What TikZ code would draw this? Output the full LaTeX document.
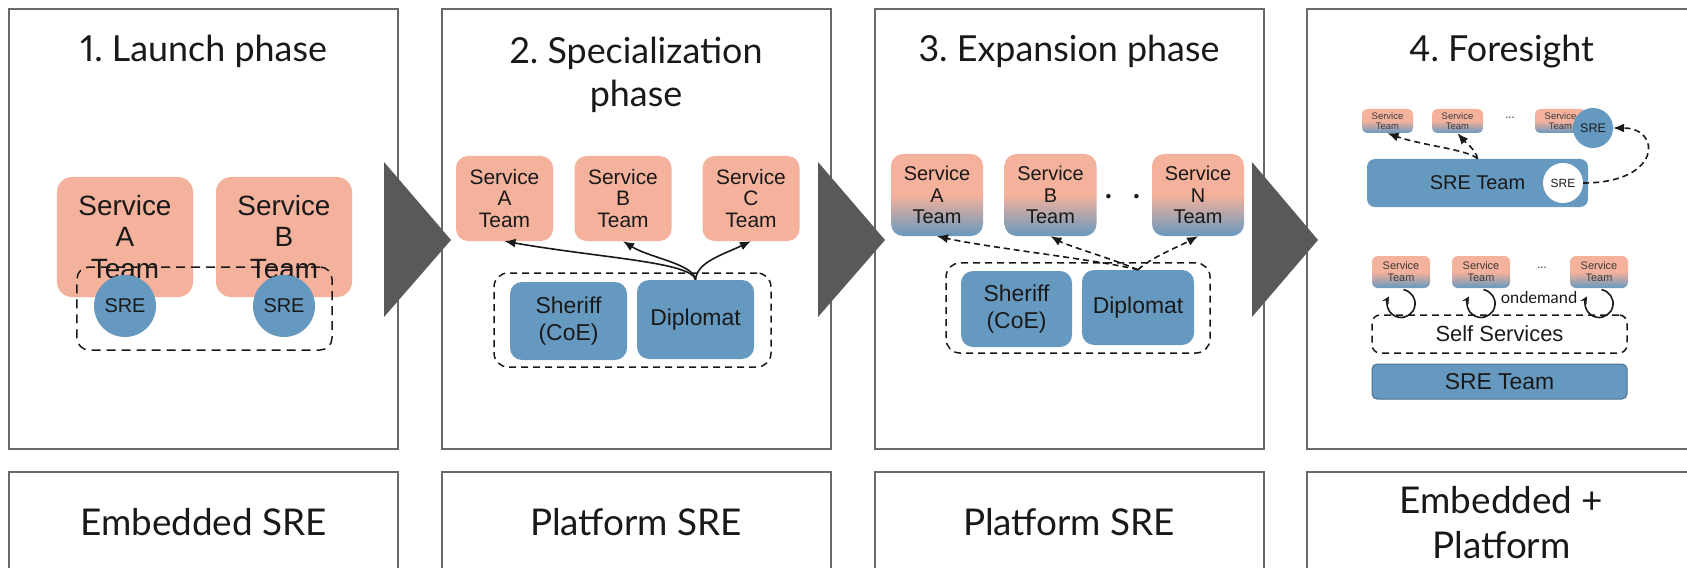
\documentclass[tikz,border=0pt]{standalone}
\usepackage{fontspec}
\setmainfont{Lato}[Numbers=Proportional]
\newfontfamily\boxfont{Liberation Sans}
\usetikzlibrary{arrows.meta,calc}
\definecolor{salmon}{RGB}{244,177,155}
\definecolor{steel}{RGB}{102,153,192}
\definecolor{framegray}{RGB}{105,105,105}
\definecolor{chevron}{RGB}{89,89,89}
\definecolor{ink}{RGB}{25,25,25}
\frenchspacing
\begin{document}
\begin{tikzpicture}[x=1bp, y=-1bp,
  panel/.style={draw=framegray, line width=2bp, minimum width=389bp, minimum height=440bp, inner sep=0pt},
  capbox/.style={draw=framegray, line width=2bp, minimum width=389bp, minimum height=200bp, inner sep=0pt},
  title/.style={font=\fontsize{36}{43}\selectfont, text=ink, inner sep=0pt, align=center},
  caption/.style={font=\fontsize{37}{45}\selectfont, text=ink, inner sep=0pt, align=center},
  svcA/.style={fill=salmon, rounded corners=15bp, minimum width=136bp, minimum height=120bp, inner sep=0pt, align=center, text=ink, font=\boxfont\fontsize{28}{32}\selectfont},
  svcB/.style={fill=salmon, rounded corners=12bp, minimum width=97bp, minimum height=85bp, inner sep=0pt, align=center, text=ink, font=\boxfont\fontsize{21}{22}\selectfont},
  svcC/.style={top color=salmon, bottom color=steel, middle color=salmon, rounded corners=12bp, minimum width=92bp, minimum height=82bp, inner sep=0pt, align=center, text=ink, font=\boxfont\fontsize{20}{21.5}\selectfont},
  minisvc/.style={top color=salmon, bottom color=steel, middle color=salmon, rounded corners=5bp, minimum width=51bp, minimum height=24bp, inner sep=0pt, align=center, text=ink!85, font=\boxfont\fontsize{9.5}{10}\selectfont},
  minisvcB/.style={top color=salmon, bottom color=steel, middle color=salmon, rounded corners=6bp, minimum width=58bp, minimum height=32bp, inner sep=0pt, align=center, text=ink!85, font=\boxfont\fontsize{11}{12}\selectfont},
  role/.style={fill=steel, rounded corners=12bp, inner sep=0pt, align=center, text=ink, font=\boxfont\fontsize{23}{27}\selectfont},
  srecirc/.style={circle, fill=steel, minimum size=62bp, inner sep=0pt, text=ink, font=\boxfont\fontsize{20}{22}\selectfont},
  grouping/.style={draw=ink, line width=1.5bp, dash pattern=on 7bp off 5bp, rounded corners=14bp, inner sep=0pt},
  solidarrow/.style={draw=ink, line width=1.6bp, -{Latex[length=11bp,width=9bp]}},
  dasharrow/.style={draw=ink, line width=1.6bp, dash pattern=on 6bp off 4bp, -{Latex[length=11bp,width=9bp]}},
  looparrow/.style={draw=ink, line width=1.6bp, -{Stealth[length=7bp,width=7bp]}},
  ellip/.style={inner sep=0pt, text=ink!70, font=\fontsize{13}{14}\selectfont}
]
\clip (0,0) rectangle (1687,568);

% ---- phase frames and captions ----
\node[panel] (p1) at (203.5,229) {};
\node[panel] (p2) at (636,229) {};
\node[panel] (p3) at (1069,229) {};
\node[panel] (p4) at (1501.5,229) {};
\node[capbox] (c1) at (203.5,572) {};
\node[capbox] (c2) at (636,572) {};
\node[capbox] (c3) at (1069,572) {};
\node[capbox] (c4) at (1501.5,572) {};

\node[caption, anchor=base] (c1t) at (203.5,535) {Embedded SRE};
\node[caption, anchor=base] (c2t) at (636,535) {Platform SRE};
\node[caption, anchor=base] (c3t) at (1069,535) {Platform SRE};
\node[caption] (c4t) at (1501.5,522.5) {Embedded +\\Platform};

\node[title, anchor=base] (t1) at (203.5,62) {1. Launch phase};
\node[title] (t2) at (636,75) {2. Specialization\\phase};
\node[title, anchor=base] (t3) at (1069,62) {3. Expansion phase};
\node[title, anchor=base] (t4) at (1501.5,62) {4. Foresight};

% ---- chevrons between phases ----
\fill[chevron] (384,162) -- (384,317) -- (451,240) -- cycle;
\fill[chevron] (818,162) -- (818,317) -- (885,240) -- cycle;
\fill[chevron] (1252,162) -- (1252,317) -- (1318,240) -- cycle;

% ---- 1. launch phase ----
\node[svcA] (a1) at (125,237) {Service\\A\\Team};
\node[svcA] (b1) at (284,237) {Service\\B\\Team};
\node[grouping, dash pattern=on 9bp off 6bp, rounded corners=12bp, minimum width=255bp, minimum height=83bp] (g1) at (204.5,308.5) {};
\node[srecirc] (s1a) at (125,306) {SRE};
\node[srecirc] (s1b) at (284,306) {SRE};

% ---- 2. specialization phase ----
\node[svcB] (a2) at (504.5,198.5) {Service\\A\\Team};
\node[svcB] (b2) at (623,198.5) {Service\\B\\Team};
\node[svcB] (cc2) at (751,198.5) {Service\\C\\Team};
\node[grouping, minimum width=277bp, minimum height=94bp] (g2) at (632.5,320) {};
\node[role, minimum width=117bp, minimum height=78bp] (sh2) at (568.5,321) {Sheriff\\(CoE)};
\node[role, minimum width=117bp, minimum height=79bp] (d2) at (695.5,319.5) {Diplomat};
\draw[solidarrow] (d2.north) .. controls (692,262) and (600,258) .. (a2.south);
\draw[solidarrow] (d2.north) .. controls (694,264) and (650,258) .. (b2.south);
\draw[solidarrow] (d2.north) .. controls (697,262) and (722,255) .. (cc2.south);

% ---- 3. expansion phase ----
\node[svcC] (a3) at (937,195) {Service\\A\\Team};
\node[svcC] (b3) at (1050.5,195) {Service\\B\\Team};
\node[svcC] (n3) at (1198,195) {Service\\N\\Team};
\node[inner sep=0pt, text=ink, font=\fontsize{30}{30}\selectfont] (dots3) at (1122.5,200) {·\hspace{20bp}·};
\node[grouping, minimum width=264bp, minimum height=90bp] (g3) at (1078,308) {};
\node[role, minimum width=111bp, minimum height=76bp] (sh3) at (1016.5,309) {Sheriff\\(CoE)};
\node[role, minimum width=112bp, minimum height=75bp] (d3) at (1138,307.5) {Diplomat};
\draw[dasharrow] (d3.north) .. controls (1100,260) and (990,248) .. (a3.south);
\draw[dasharrow] (d3.north) .. controls (1110,258) and (1068,246) .. (b3.south);
\draw[dasharrow] (d3.north) .. controls (1150,258) and (1180,246) .. (n3.south);

% ---- 4. foresight: embedded ----
\node[minisvc] (u1) at (1387.5,121) {Service\\Team};
\node[minisvc] (u2) at (1457.5,121) {Service\\Team};
\node[ellip] (udots) at (1510,118) {...};
\node[minisvc] (u3) at (1560.5,121) {Service\\Team};
\node[srecirc, minimum size=40bp, font=\boxfont\fontsize{12.5}{14}\selectfont] (usre) at (1593,128) {SRE};
\node[role, rounded corners=8bp, minimum width=221bp, minimum height=48bp, font=\boxfont\fontsize{20}{22}\selectfont] (uteam) at (1477.5,183) {SRE Team};
\node[srecirc, fill=white, minimum size=40bp, font=\boxfont\fontsize{12}{14}\selectfont] (wsre) at (1563,183) {SRE};
\draw[dasharrow] (uteam.north) .. controls (1470,150) and (1420,145) .. (u1.south);
\draw[dasharrow] (uteam.north) .. controls (1476,150) and (1466,143) .. (u2.south);
\draw[dasharrow] (wsre.east) .. controls (1662,183) and (1662,128) .. (usre.east);

% ---- 4. foresight: platform ----
\node[minisvcB] (v1) at (1401,272) {Service\\Team};
\node[minisvcB] (v2) at (1481,272) {Service\\Team};
\node[ellip] (vdots) at (1542,268) {...};
\node[minisvcB] (v3) at (1599,272) {Service\\Team};
\draw[looparrow] ($(v1.south)+(2.5,1.5)$) arc[start angle=80, end angle=-210, radius=14bp];
\draw[looparrow] ($(v2.south)+(2.5,1.5)$) arc[start angle=80, end angle=-210, radius=14bp];
\draw[looparrow] ($(v3.south)+(2.5,1.5)$) arc[start angle=80, end angle=-210, radius=14bp];
\node[inner sep=0pt, text=ink, font=\fontsize{16.5}{18}\selectfont] (od) at (1539,298) {ondemand};
\node[grouping, rounded corners=8bp, minimum width=255bp, minimum height=38bp, text=ink, font=\boxfont\fontsize{22}{24}\selectfont] (ss) at (1499.5,334) {Self Services};
\node[role, draw=steel!75!black, line width=1bp, rounded corners=5bp, minimum width=255bp, minimum height=35bp, font=\boxfont\fontsize{23}{25}\selectfont] (lt) at (1499.5,381.5) {SRE Team};
\end{tikzpicture}
\end{document}
